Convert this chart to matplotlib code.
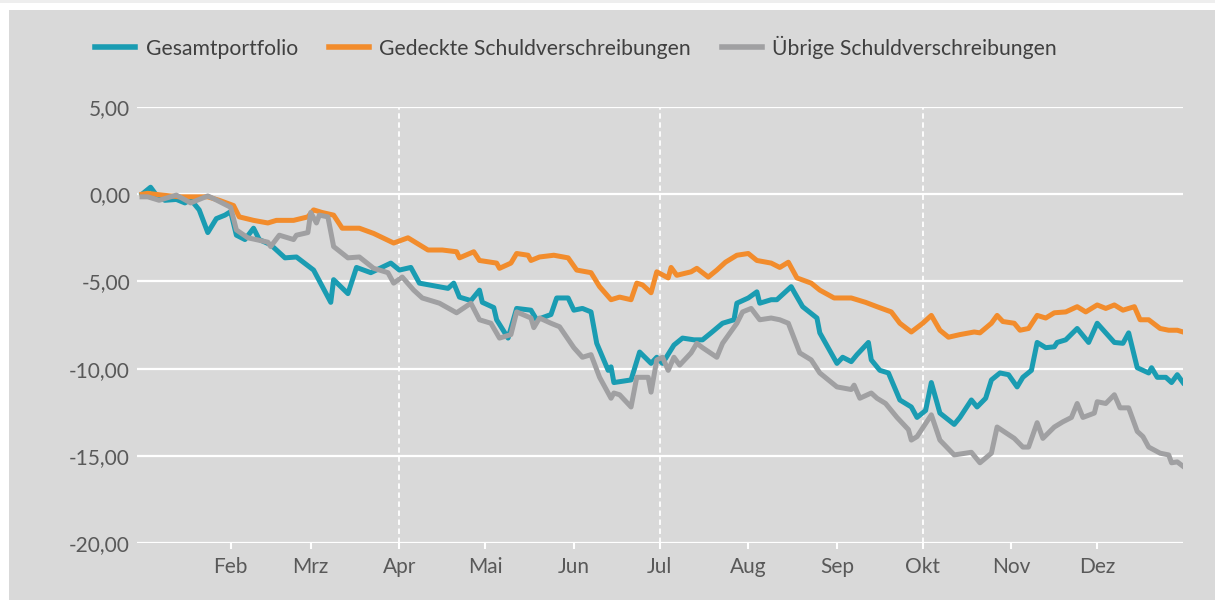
import matplotlib

matplotlib.use("Agg")

import matplotlib.pyplot as plt
import pandas as pd
from matplotlib.patches import Rectangle
from matplotlib.ticker import FuncFormatter

YEAR_START = pd.Timestamp("2023-01-01")

# day offsets from 1 Jan and index values
gesamt_days = [0, 3, 5, 8, 12, 15, 17, 20, 23, 26, 29, 31, 33, 36, 39, 41, 45, 50, 54, 60,
               66, 67, 72, 75, 80, 87, 90, 94, 97, 107, 109, 111, 115, 118, 119, 123, 124,
               128, 131, 136, 138, 143, 145, 149, 151, 154, 157, 159, 163, 164, 165, 171,
               174, 178, 180, 182, 186, 189, 193, 196, 199, 203, 207, 208, 212, 215, 216,
               220, 222, 227, 228, 231, 236, 237, 243, 245, 248, 250, 254, 255, 258, 261,
               265, 269, 271, 274, 276, 279, 284, 286, 290, 292, 295, 297, 300, 303, 306,
               308, 311, 313, 316, 319, 320, 323, 327, 331, 334, 337, 340, 343, 345, 348,
               352, 353, 355, 358, 360, 362, 364]
gesamt_vals = [0.0, 0.4, -0.05, -0.35, -0.3, -0.5, -0.3, -0.9, -2.2, -1.4, -1.2, -1.0, -2.35,
               -2.6, -1.95, -2.6, -2.9, -3.65, -3.6, -4.35, -6.2, -4.9, -5.7, -4.2, -4.5,
               -3.95, -4.35, -4.2, -5.1, -5.4, -5.1, -5.9, -6.1, -5.5, -6.2, -6.5, -7.2,
               -8.25, -6.55, -6.65, -7.2, -6.9, -5.95, -5.95, -6.65, -6.55, -6.75, -8.55,
               -10.1, -9.9, -10.8, -10.65, -9.05, -9.7, -9.35, -9.7, -8.65, -8.25, -8.35,
               -8.35, -7.95, -7.4, -7.2, -6.25, -5.95, -5.6, -6.25, -6.05, -6.05, -5.3,
               -5.6, -6.45, -7.1, -7.95, -9.7, -9.35, -9.6, -9.2, -8.5, -9.5, -10.1, -10.25,
               -11.8, -12.2, -12.8, -12.4, -10.8, -12.55, -13.2, -12.8, -11.8, -12.2, -11.7,
               -10.65, -10.25, -10.35, -11.05, -10.5, -10.1, -8.5, -8.8, -8.75, -8.5, -8.35,
               -7.7, -8.5, -7.4, -7.95, -8.5, -8.55, -7.95, -9.95, -10.25, -9.95, -10.5,
               -10.5, -10.8, -10.35, -10.8]

gedeckt_days = [0, 2, 7, 13, 19, 23, 27, 32, 34, 39, 44, 47, 53, 58, 60, 63, 67, 70, 76, 81,
                88, 93, 100, 105, 110, 111, 116, 118, 124, 125, 129, 131, 135, 136, 139, 144,
                149, 152, 157, 160, 164, 167, 171, 173, 175, 178, 180, 184, 185, 187, 192,
                194, 198, 201, 204, 208, 212, 215, 220, 223, 226, 229, 234, 237, 242, 248,
                253, 257, 262, 265, 269, 273, 276, 279, 282, 286, 291, 293, 297, 299, 301,
                305, 307, 310, 313, 316, 319, 323, 327, 330, 334, 337, 340, 343, 347, 349,
                352, 356, 359, 362, 364]
gedeckt_vals = [0.0, 0.05, -0.05, -0.15, -0.15, -0.15, -0.35, -0.65, -1.3, -1.5, -1.65, -1.5,
                -1.5, -1.3, -0.9, -1.05, -1.2, -1.95, -1.95, -2.25, -2.8, -2.5, -3.2, -3.2,
                -3.3, -3.65, -3.3, -3.8, -3.95, -4.25, -3.95, -3.4, -3.5, -3.8, -3.6, -3.5,
                -3.65, -4.35, -4.5, -5.3, -6.05, -5.9, -6.05, -5.1, -5.2, -5.65, -4.45, -4.8,
                -4.2, -4.65, -4.45, -4.25, -4.75, -4.35, -3.9, -3.5, -3.4, -3.8, -3.95, -4.2,
                -3.9, -4.8, -5.1, -5.5, -5.95, -5.95, -6.2, -6.45, -6.75, -7.4, -7.9, -7.4,
                -6.95, -7.8, -8.2, -8.05, -7.9, -7.95, -7.4, -6.95, -7.3, -7.4, -7.8, -7.7,
                -6.95, -7.1, -6.8, -6.75, -6.45, -6.75, -6.35, -6.55, -6.35, -6.65, -6.45,
                -7.2, -7.2, -7.7, -7.8, -7.8, -7.9]

uebrige_days = [0, 2, 6, 12, 17, 23, 25, 31, 33, 37, 44, 45, 48, 53, 54, 58, 59, 61, 62, 65,
                67, 72, 76, 81, 86, 88, 91, 95, 98, 104, 110, 115, 118, 122, 125, 129, 131,
                136, 137, 139, 143, 146, 151, 154, 157, 160, 163, 164, 165, 167, 171, 173,
                177, 178, 180, 182, 184, 186, 188, 192, 194, 196, 201, 203, 208, 210, 213,
                216, 220, 223, 226, 230, 234, 237, 243, 248, 249, 251, 255, 257, 260, 264,
                268, 269, 271, 273, 276, 279, 284, 290, 293, 297, 299, 305, 308, 310, 313,
                315, 319, 322, 325, 327, 329, 333, 334, 337, 340, 342, 345, 348, 350, 352,
                356, 359, 360, 362, 364]
uebrige_vals = [-0.15, -0.15, -0.35, -0.05, -0.5, -0.1, -0.25, -0.75, -2.05, -2.5, -2.75, -3.0,
                -2.35, -2.6, -2.35, -2.2, -1.05, -1.65, -1.2, -1.3, -3.0, -3.65, -3.6, -4.25,
                -4.5, -5.1, -4.75, -5.5, -5.95, -6.25, -6.8, -6.25, -7.2, -7.4, -8.25, -8.05,
                -6.75, -7.1, -7.65, -7.1, -7.4, -7.6, -8.8, -9.35, -9.2, -10.5, -11.4, -11.7,
                -11.4, -11.5, -12.2, -10.5, -10.5, -11.35, -9.5, -9.35, -10.1, -9.35, -9.8,
                -9.1, -8.55, -8.8, -9.35, -8.55, -7.4, -6.75, -6.55, -7.2, -7.1, -7.2, -7.4,
                -9.1, -9.5, -10.25, -11.05, -11.2, -10.95, -11.7, -11.4, -11.7, -12.0, -12.8,
                -13.5, -14.1, -13.9, -13.4, -12.65, -14.1, -14.95, -14.8, -15.4, -14.85,
                -13.35, -14.0, -14.5, -14.5, -13.1, -14.0, -13.35, -13.05, -12.8, -12.0, -12.8,
                -12.55, -11.9, -12.0, -11.5, -12.25, -12.25, -13.6, -13.9, -14.5, -14.85,
                -14.95, -15.4, -15.35, -15.6]

series_labels = ["Gesamtportfolio", "Gedeckte Schuldverschreibungen", "Übrige Schuldverschreibungen"]
month_labels = ["Feb", "Mrz", "Apr", "Mai", "Jun", "Jul", "Aug", "Sep", "Okt", "Nov", "Dez"]
y_ticks = [5, 0, -5, -10, -15, -20]

colors = ["#1a9cb2", "#f28c2c", "#a0a0a2"]
bg = "#d9d9d9"


def to_dates(days):
    return YEAR_START + pd.to_timedelta(days, unit="D")


def main():
    plt.rcParams["font.family"] = ["Lato", "DejaVu Sans"]

    fig = plt.figure(figsize=(12.15, 6.0), dpi=100)
    fig.patch.set_facecolor("white")
    fig.patches.append(Rectangle((9 / 1215, 0), 1 - 9 / 1215, 1 - 10 / 600,
                                 transform=fig.transFigure, facecolor=bg,
                                 edgecolor="none", zorder=-2))
    fig.patches.append(Rectangle((0, 1 - 3 / 600), 1, 3 / 600, transform=fig.transFigure,
                                 facecolor="#eeeeee", edgecolor="none", zorder=-2))

    ax = fig.add_axes([137 / 1215, 1 - 543 / 600, (1183 - 137) / 1215, (543 - 107) / 600])
    ax.set_facecolor("none")

    all_days = [gesamt_days, gedeckt_days, uebrige_days]
    all_vals = [gesamt_vals, gedeckt_vals, uebrige_vals]
    for days, vals, label, color in zip(all_days, all_vals, series_labels, colors):
        ax.plot(to_dates(days), vals, color=color, linewidth=3.6, label=label,
                solid_joinstyle="round", zorder=3)

    ax.set_ylim(-20, 5)
    ax.set_xlim(YEAR_START - pd.Timedelta(days=1.75), YEAR_START + pd.Timedelta(days=364))
    ax.set_yticks(y_ticks)
    ax.yaxis.set_major_formatter(FuncFormatter(lambda v, _: f"{v:.2f}".replace(".", ",")))

    month_starts = pd.date_range("2023-02-01", periods=11, freq="MS")
    ax.set_xticks(month_starts)
    ax.set_xticklabels(month_labels)

    for s in ax.spines.values():
        s.set_visible(False)
    ax.grid(axis="y", color="white", linewidth=1.6, zorder=1)
    for m in ["2023-04-01", "2023-07-01", "2023-10-01"]:
        ax.axvline(pd.Timestamp(m), color="white", linewidth=1.3, linestyle=(0, (3, 2)), zorder=1)

    ax.tick_params(axis="y", length=0, pad=5, labelsize=15, labelcolor="#595959")
    ax.tick_params(axis="x", length=4, width=1.5, color="white", pad=6, labelsize=15,
                   labelcolor="#595959")

    leg = fig.legend(loc="center left", bbox_to_anchor=(95 / 1215, 1 - 47 / 600), ncol=3,
                     frameon=False, fontsize=15.2, handlelength=1.9, handletextpad=0.5,
                     columnspacing=1.45, borderpad=0, borderaxespad=0, labelcolor="#404040")
    for h in leg.legend_handles:
        h.set_linewidth(4)

    fig.savefig("out.png", dpi=100)
    plt.close(fig)


if __name__ == "__main__":
    main()
